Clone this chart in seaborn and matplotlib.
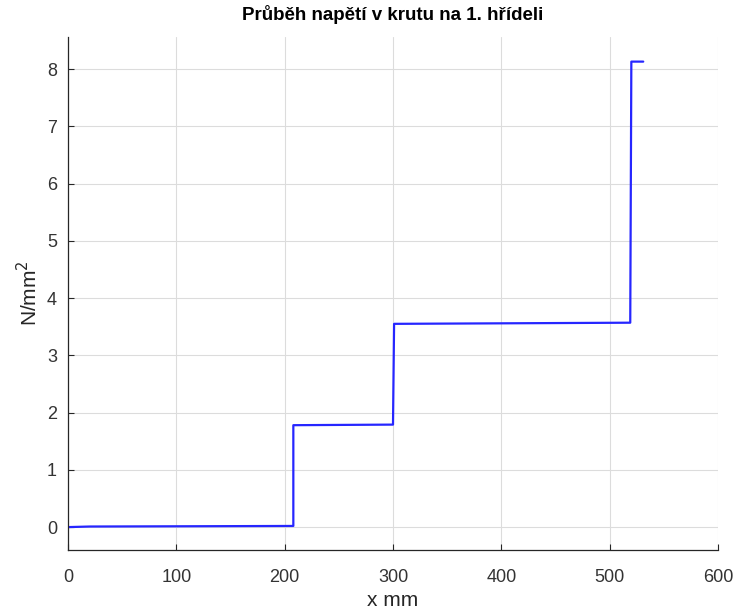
import matplotlib
matplotlib.use("Agg")
import matplotlib.pyplot as plt
import seaborn as sns
import pandas as pd

x_mm = [0, 20, 115, 208, 208, 300, 301, 519, 520, 531]
tau = [0.0, 0.01, 0.015, 0.02, 1.78, 1.79, 3.55, 3.57, 8.13, 8.13]

title = "Průběh napětí v krutu na 1. hřídeli"
xlabel = "x mm"
ylabel = "N/mm$^2$"
xticks = [0, 100, 200, 300, 400, 500, 600]
yticks = [0, 1, 2, 3, 4, 5, 6, 7, 8]

sns.set_theme(style="white")
plt.rcParams['font.family'] = ['Liberation Sans', 'DejaVu Sans']

df = pd.DataFrame({"x": x_mm, "y": tau, "o": range(len(x_mm))})

fig = plt.figure(figsize=(7.35, 6.13), dpi=100)
ax = fig.add_axes([68/735, 63/613, 650/735, 513/613])
sns.lineplot(data=df, x="x", y="y", sort=False, estimator=None, color=(0.15, 0.15, 1.0),
             linewidth=1.6, ax=ax)

ax.set_xlim(0, 600)
ax.set_ylim(-0.4, 8.56)
ax.set_xticks(xticks)
ax.set_yticks(yticks)
ax.grid(True, color="#dcdcdc", linewidth=0.8)
for s in ["top", "right"]:
    ax.spines[s].set_visible(False)
for s in ["left", "bottom"]:
    ax.spines[s].set_color("#262626")
    ax.spines[s].set_linewidth(0.9)
ax.tick_params(axis="both", direction="in", length=4, width=0.8, colors="#262626",
               labelsize=13, labelcolor="#333333", bottom=True, left=True)
ax.tick_params(axis="x", pad=14)
ax.tick_params(axis="y", pad=8)
ax.set_xlabel(xlabel, fontsize=15, color="#262626", labelpad=3)
ax.set_ylabel(ylabel, fontsize=15, color="#262626", labelpad=4)
ax.set_title(title, fontsize=13.5, fontweight="bold", color="black", pad=12)

fig.savefig("out.png", dpi=100)
